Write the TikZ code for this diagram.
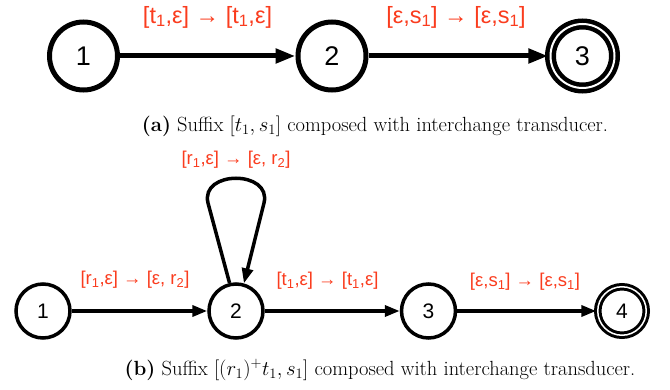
\documentclass[tikz,border=0pt]{standalone}
\usepackage{fontspec}
\newfontfamily\lblfont{Liberation Sans}
\usetikzlibrary{arrows.meta}
\definecolor{lblred}{RGB}{250,60,30}
\begin{document}
\begin{tikzpicture}[x=1pt,y=-1pt,
  stateA/.style={circle,draw,line width=5pt,minimum size=68pt,inner sep=0pt,font=\lblfont\fontsize{27}{29}\selectfont},
  stateB/.style={circle,draw,line width=3.5pt,minimum size=54pt,inner sep=0pt,font=\lblfont\fontsize{21}{23}\selectfont},
  edgeA/.style={line width=5pt,-{Triangle[length=20pt,width=14pt]}},
  edgeB/.style={line width=3.5pt,-{Triangle[length=15pt,width=11pt]}},
  lblA/.style={text=lblred,font=\lblfont\fontsize{23.5}{25}\selectfont,inner sep=0pt},
  lblB/.style={text=lblred,font=\lblfont\fontsize{18.5}{20}\selectfont,inner sep=0pt},
  capt/.style={font=\fontsize{20.5}{23}\selectfont,inner sep=0pt}]
\useasboundingbox (0,0) rectangle (670,390);
% (a)
\node[stateA] (a1) at (83.5,56) {1};
\node[stateA] (a2) at (332,56) {2};
\node[stateA,double,double distance=2pt,line width=4.5pt,minimum size=64pt] (a3) at (582.5,56) {3};
\draw[edgeA] (a1) -- (a2);
\draw[edgeA] (a2) -- (a3);
\node[lblA] (la1) at (207.5,17) {[t\textsubscript{1},ε] → [t\textsubscript{1},ε]};
\node[lblA] (la2) at (456,17) {[ε,s\textsubscript{1}] → [ε,s\textsubscript{1}]};
\node[capt] (ca) at (375,126) {\textbf{(a)} Suffix $[t_1,s_1]$ composed with interchange transducer.};
% (b)
\node[stateB] (b1) at (43,311) {1};
\node[stateB] (b2) at (236,311) {2};
\node[stateB] (b3) at (428.5,311) {3};
\node[stateB,double,double distance=1.5pt,line width=3pt,minimum size=48.5pt] (b4) at (622,311) {4};
\draw[edgeB] (b1) -- (b2);
\draw[edgeB] (b2) -- (b3);
\draw[edgeB] (b3) -- (b4);
\coordinate (lpL) at (208,203);
\coordinate (lpR) at (264,203);
\draw[edgeB] (b2.103) -- (lpL) .. controls (200,170) and (272,170) .. (lpR) -- (b2.74);
\node[lblB] (lb1) at (135,280) {[r\textsubscript{1},ε] → [ε, r\textsubscript{2}]};
\node[lblB] (lb2) at (236,160) {[r\textsubscript{1},ε] → [ε, r\textsubscript{2}]};
\node[lblB] (lb3) at (327.5,281) {[t\textsubscript{1},ε] → [t\textsubscript{1},ε]};
\node[lblB] (lb4) at (525,282) {[ε,s\textsubscript{1}] → [ε,s\textsubscript{1}]};
\node[capt] (cb) at (380,370) {\textbf{(b)} Suffix $[(r_1)^+t_1,s_1]$ composed with interchange transducer.};
\end{tikzpicture}
\end{document}
